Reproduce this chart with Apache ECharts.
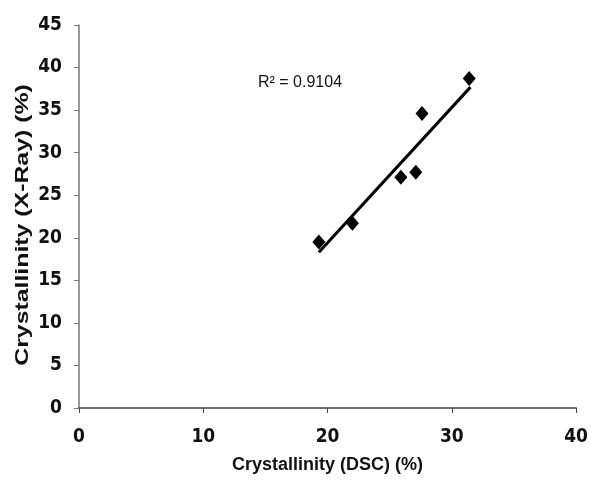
<!DOCTYPE html>
<html>
<head>
<meta charset="utf-8">
<script src="https://cdn.jsdelivr.net/npm/echarts@6/dist/echarts.min.js"></script>
<style>
    html, body { margin: 0; padding: 0; background: #fff; }
    #chart { width: 591px; height: 500px; }
</style>
</head>
<body>
<div id="chart"></div>
<script>
    // crystallinity values
    var dscValues = [19.3, 22.0, 25.9, 27.1, 27.6, 31.4];
    var xrayValues = [19.5, 21.7, 27.1, 27.7, 34.6, 38.7];
    // linear trend line ends
    var trendX = [19.3, 31.5];
    var trendY = [18.3, 37.7];
    var r2Label = 'R² = 0.9104';
    var xTitle = 'Crystallinity (DSC) (%)';
    var yTitle = 'Crystallinity (X-Ray) (%)';

    var pointData = [];
    for (var i = 0; i < dscValues.length; i++) {
        pointData.push([dscValues[i], xrayValues[i]]);
    }
    var trendData = [];
    for (var j = 0; j < trendX.length; j++) {
        trendData.push([trendX[j], trendY[j]]);
    }

    var tickFont = '"Liberation Sans Narrow", "DejaVu Sans Condensed", "Liberation Sans"';
    var titleFont = 'Liberation Sans';
    var myChart = echarts.init(document.getElementById('chart'));
    var option = {
        animation: false,
        backgroundColor: '#fff',
        grid: { left: 79, right: 12, top: 25, bottom: 92 },
        xAxis: {
            type: 'value',
            min: 0, max: 40, interval: 10,
            name: xTitle,
            nameLocation: 'middle',
            nameGap: 48,
            nameTextStyle: { fontFamily: titleFont, fontWeight: 'bold', fontSize: 18, color: '#111' },
            axisLine: { lineStyle: { color: '#444', width: 1.5 } },
            axisTick: { show: true, length: 5, lineStyle: { color: '#444' } },
            axisLabel: { fontFamily: tickFont, fontWeight: 'bold', fontSize: 19, color: '#111', margin: 20 },
            splitLine: { show: false }
        },
        yAxis: {
            type: 'value',
            min: 0, max: 45, interval: 5,
            axisLine: { lineStyle: { color: '#777', width: 1.5 } },
            axisTick: { show: true, length: 5, lineStyle: { color: '#777' } },
            axisLabel: { fontFamily: tickFont, fontWeight: 'bold', fontSize: 19, color: '#111', margin: 17 },
            splitLine: { show: false }
        },
        graphic: [{
            type: 'text',
            left: 258,
            top: 75,
            style: { text: r2Label, fontFamily: titleFont, fontSize: 16, fill: '#111' }
        }, {
            // y title, stretched along its length like the scanned figure
            type: 'text',
            x: 23,
            y: 225,
            rotation: Math.PI / 2,
            scaleX: 1.38,
            style: {
                text: yTitle, fontFamily: titleFont, fontWeight: 'bold', fontSize: 18,
                fill: '#111', align: 'center', verticalAlign: 'middle'
            }
        }],
        series: [{
            type: 'line',
            data: trendData,
            symbol: 'none',
            lineStyle: { color: '#000', width: 3 },
            z: 2
        }, {
            type: 'scatter',
            data: pointData,
            symbol: 'diamond',
            symbolSize: [13, 15],
            itemStyle: { color: '#000', opacity: 1 },
            z: 3
        }]
    };
    myChart.setOption(option);
</script>
</body>
</html>
